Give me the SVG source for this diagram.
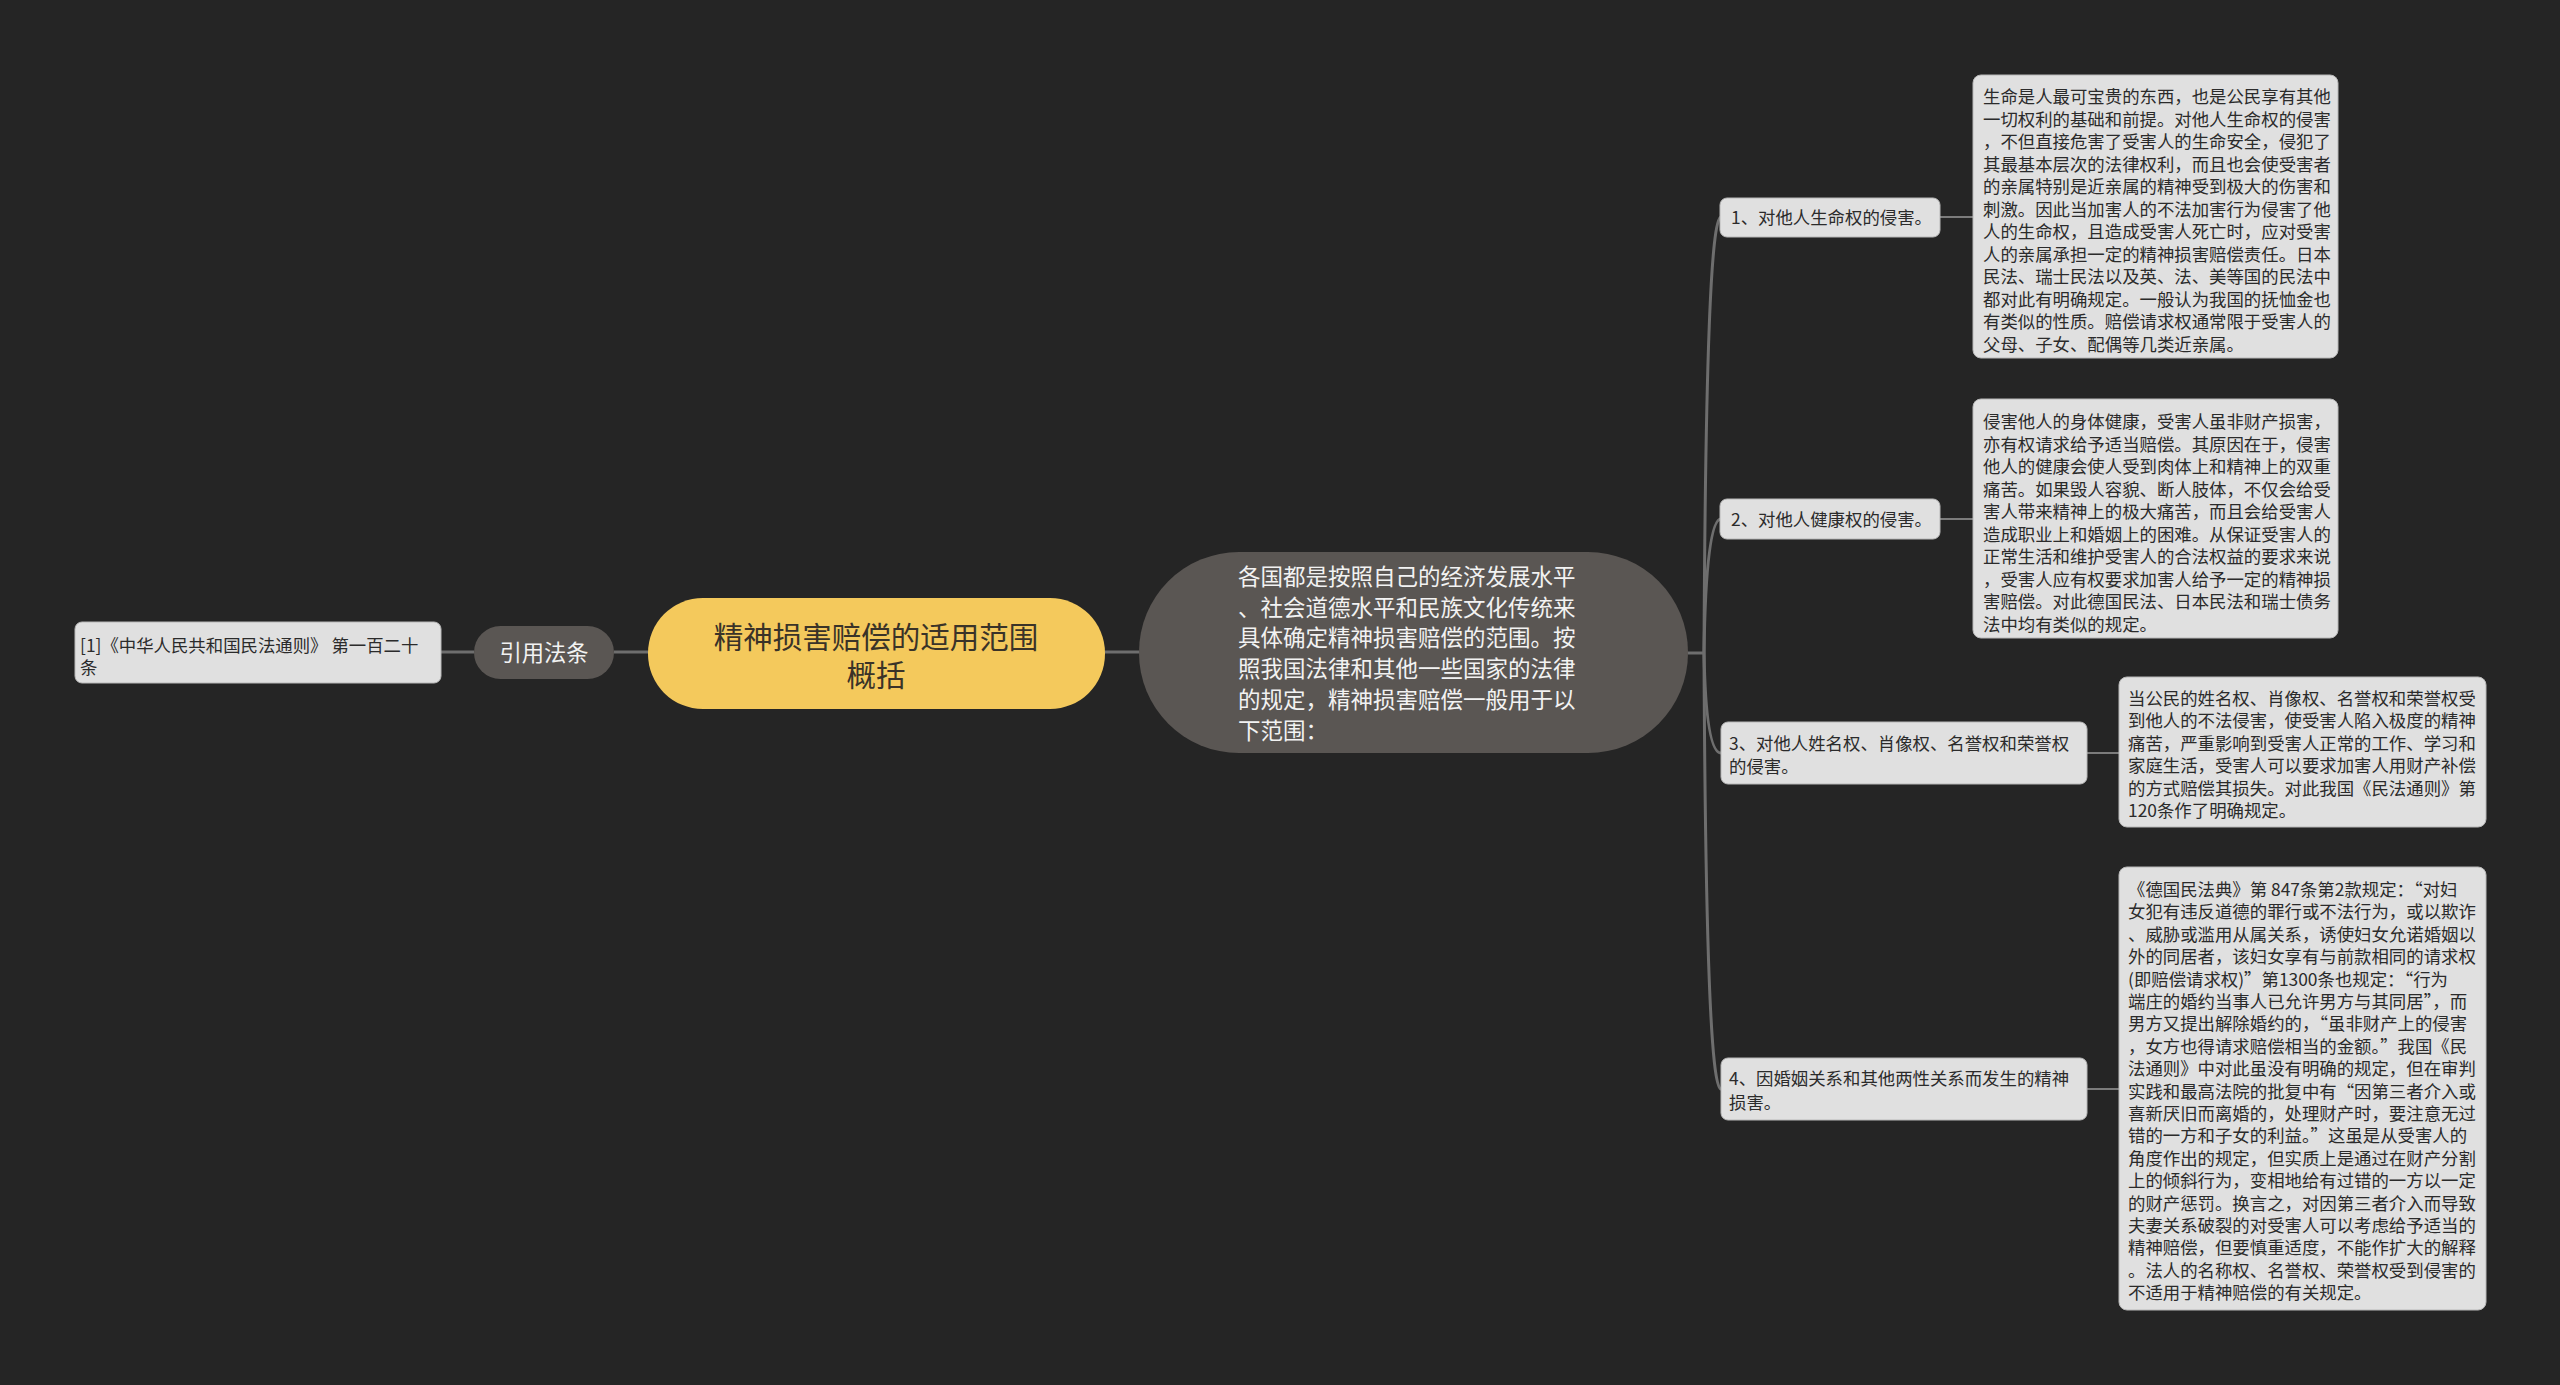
<svg xmlns="http://www.w3.org/2000/svg" width="2560" height="1385" viewBox="0 0 2560 1385">
<style>
.t{font-family:"Noto Sans CJK SC","Noto Sans",sans-serif;}
.box{fill:#e0e0e0;stroke:#b8b8b8;stroke-width:1;}
.s{font-size:17.4px;fill:#2b2b2b;}
.w{fill:#f2f2f2;}
.conn{fill:none;stroke:#6e6e6e;stroke-width:3;}
.conn2{fill:none;stroke:#7c7c7c;stroke-width:2;}
</style>
<rect width="2560" height="1385" fill="#252525"/>
<g id="connectors">
<line class="conn" x1="441" y1="652" x2="474" y2="652"/>
<line class="conn" x1="614" y1="652" x2="648" y2="652"/>
<line class="conn" x1="1105" y1="652" x2="1139" y2="652"/>
<path class="conn" d="M1688,653 H1704"/>
<path class="conn" d="M1704,653 Q1706,217 1721,217"/>
<path class="conn" d="M1704,653 Q1706,519 1721,519"/>
<path class="conn" d="M1704,653 Q1706,753 1721,753"/>
<path class="conn" d="M1704,653 Q1706,1089 1721,1089"/>
<line class="conn2" x1="1940" y1="217" x2="1973" y2="217"/>
<line class="conn2" x1="1940" y1="519" x2="1973" y2="519"/>
<line class="conn2" x1="2087" y1="753" x2="2119" y2="753"/>
<line class="conn2" x1="2087" y1="1089" x2="2119" y2="1089"/>
</g>
<g id="root">
<rect x="648" y="598" width="457" height="111" rx="55" fill="#f4c95c"/>
<text class="t" x="876" y="648" font-size="29.5" fill="#3a3328" text-anchor="middle">精神损害赔偿的适用范围</text>
<text class="t" x="876" y="686" font-size="29.5" fill="#3a3328" text-anchor="middle">概括</text>
</g>
<g id="cite">
<rect x="474" y="626" width="140" height="53" rx="26.5" fill="#5a5653"/>
<text class="t w" x="544" y="661" font-size="22.3" text-anchor="middle">引用法条</text>
</g>
<g id="cite-ref">
<rect class="box" x="75" y="622" width="366" height="61" rx="7"/>
<text class="t s" x="80" y="651.6">[1]《中华人民共和国民法通则》 第一百二十</text>
<text class="t s" x="80" y="673.6">条</text>
</g>
<g id="summary">
<rect x="1139" y="552" width="549" height="201" rx="100" fill="#5a5653"/>
<g class="t w" font-size="22.5">
<text x="1238" y="584.6">各国都是按照自己的经济发展水平</text>
<text x="1238" y="615.5">、社会道德水平和民族文化传统来</text>
<text x="1238" y="646.4">具体确定精神损害赔偿的范围。按</text>
<text x="1238" y="677.3">照我国法律和其他一些国家的法律</text>
<text x="1238" y="708.2">的规定，精神损害赔偿一般用于以</text>
<text x="1238" y="739.1">下范围：</text>
</g>
</g>
<g id="n1">
<rect class="box" x="1720" y="198" width="220" height="39" rx="7"/>
<text class="t s" x="1731" y="223.6">1、对他人生命权的侵害。</text>
</g>
<g id="n2">
<rect class="box" x="1720" y="499" width="220" height="40" rx="7"/>
<text class="t s" x="1731" y="525.6">2、对他人健康权的侵害。</text>
</g>
<g id="n3">
<rect class="box" x="1721" y="722" width="366" height="62" rx="7"/>
<text class="t s" x="1729" y="749.6">3、对他人姓名权、肖像权、名誉权和荣誉权</text>
<text class="t s" x="1729" y="772.6">的侵害。</text>
</g>
<g id="n4">
<rect class="box" x="1721" y="1058" width="366" height="62" rx="7"/>
<text class="t s" x="1729" y="1084.6">4、因婚姻关系和其他两性关系而发生的精神</text>
<text class="t s" x="1729" y="1108.6">损害。</text>
</g>
<g id="d1">
<rect class="box" x="1973" y="75" width="365" height="283" rx="8"/>
<g class="t s">
<text x="1983" y="103.3">生命是人最可宝贵的东西，也是公民享有其他</text>
<text x="1983" y="125.8">一切权利的基础和前提。对他人生命权的侵害</text>
<text x="1983" y="148.3">，不但直接危害了受害人的生命安全，侵犯了</text>
<text x="1983" y="170.8">其最基本层次的法律权利，而且也会使受害者</text>
<text x="1983" y="193.3">的亲属特别是近亲属的精神受到极大的伤害和</text>
<text x="1983" y="215.8">刺激。因此当加害人的不法加害行为侵害了他</text>
<text x="1983" y="238.3">人的生命权，且造成受害人死亡时，应对受害</text>
<text x="1983" y="260.8">人的亲属承担一定的精神损害赔偿责任。日本</text>
<text x="1983" y="283.3">民法、瑞士民法以及英、法、美等国的民法中</text>
<text x="1983" y="305.8">都对此有明确规定。一般认为我国的抚恤金也</text>
<text x="1983" y="328.3">有类似的性质。赔偿请求权通常限于受害人的</text>
<text x="1983" y="350.8">父母、子女、配偶等几类近亲属。</text>
</g>
</g>
<g id="d2">
<rect class="box" x="1973" y="399" width="365" height="239" rx="8"/>
<g class="t s">
<text x="1983" y="428.3">侵害他人的身体健康，受害人虽非财产损害，</text>
<text x="1983" y="450.8">亦有权请求给予适当赔偿。其原因在于，侵害</text>
<text x="1983" y="473.3">他人的健康会使人受到肉体上和精神上的双重</text>
<text x="1983" y="495.8">痛苦。如果毁人容貌、断人肢体，不仅会给受</text>
<text x="1983" y="518.3">害人带来精神上的极大痛苦，而且会给受害人</text>
<text x="1983" y="540.8">造成职业上和婚姻上的困难。从保证受害人的</text>
<text x="1983" y="563.3">正常生活和维护受害人的合法权益的要求来说</text>
<text x="1983" y="585.8">，受害人应有权要求加害人给予一定的精神损</text>
<text x="1983" y="608.3">害赔偿。对此德国民法、日本民法和瑞士债务</text>
<text x="1983" y="630.8">法中均有类似的规定。</text>
</g>
</g>
<g id="d3">
<rect class="box" x="2119" y="677" width="367" height="150" rx="8"/>
<g class="t s">
<text x="2128" y="705">当公民的姓名权、肖像权、名誉权和荣誉权受</text>
<text x="2128" y="727.4">到他人的不法侵害，使受害人陷入极度的精神</text>
<text x="2128" y="749.8">痛苦，严重影响到受害人正常的工作、学习和</text>
<text x="2128" y="772.2">家庭生活，受害人可以要求加害人用财产补偿</text>
<text x="2128" y="794.6">的方式赔偿其损失。对此我国《民法通则》第</text>
<text x="2128" y="817">120条作了明确规定。</text>
</g>
</g>
<g id="d4">
<rect class="box" x="2119" y="867" width="367" height="443" rx="8"/>
<g class="t s">
<text x="2128" y="896">《德国民法典》第 847条第2款规定：“对妇</text>
<text x="2128" y="918.4">女犯有违反道德的罪行或不法行为，或以欺诈</text>
<text x="2128" y="940.8">、威胁或滥用从属关系，诱使妇女允诺婚姻以</text>
<text x="2128" y="963.2">外的同居者，该妇女享有与前款相同的请求权</text>
<text x="2128" y="985.6">(即赔偿请求权)”第1300条也规定：“行为</text>
<text x="2128" y="1008">端庄的婚约当事人已允许男方与其同居”，而</text>
<text x="2128" y="1030.4">男方又提出解除婚约的，“虽非财产上的侵害</text>
<text x="2128" y="1052.8">，女方也得请求赔偿相当的金额。”我国《民</text>
<text x="2128" y="1075.2">法通则》中对此虽没有明确的规定，但在审判</text>
<text x="2128" y="1097.6">实践和最高法院的批复中有“因第三者介入或</text>
<text x="2128" y="1120">喜新厌旧而离婚的，处理财产时，要注意无过</text>
<text x="2128" y="1142.4">错的一方和子女的利益。”这虽是从受害人的</text>
<text x="2128" y="1164.8">角度作出的规定，但实质上是通过在财产分割</text>
<text x="2128" y="1187.2">上的倾斜行为，变相地给有过错的一方以一定</text>
<text x="2128" y="1209.6">的财产惩罚。换言之，对因第三者介入而导致</text>
<text x="2128" y="1232">夫妻关系破裂的对受害人可以考虑给予适当的</text>
<text x="2128" y="1254.4">精神赔偿，但要慎重适度，不能作扩大的解释</text>
<text x="2128" y="1276.8">。法人的名称权、名誉权、荣誉权受到侵害的</text>
<text x="2128" y="1299.2">不适用于精神赔偿的有关规定。</text>
</g>
</g>
</svg>
